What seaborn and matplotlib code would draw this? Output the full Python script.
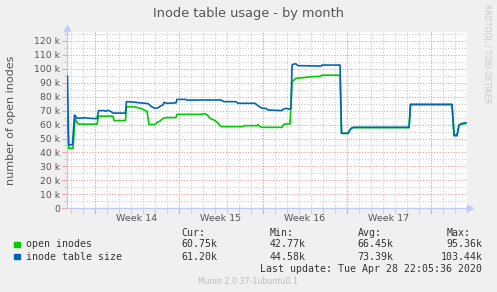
import numpy as np
import pandas as pd
import seaborn as sns
import matplotlib
matplotlib.use("Agg")
import matplotlib.pyplot as plt
from matplotlib.patches import Rectangle

# ---------------- data (x in days since graph start, values in thousands) ----
blue_day = [0.06, 0.17, 0.48, 0.65, 0.78, 0.86, 1.53, 2.19, 2.53, 2.65, 3.11, 3.28,
            3.44, 3.69, 3.86, 4.90, 4.98, 5.69, 6.11, 6.78, 7.03, 7.36, 7.61, 7.86,
            8.03, 8.11, 8.36, 9.11, 9.19, 9.86, 10.11, 11.11, 12.86, 13.11, 14.11,
            14.28, 15.69, 15.94, 16.28, 16.61, 16.78, 17.94, 18.03, 18.28, 18.53,
            18.69, 18.78, 18.94, 19.11, 19.28, 21.19, 21.28, 22.78, 22.90, 23.44,
            23.69, 23.86, 28.53, 28.65, 32.11, 32.28, 32.53, 32.69, 32.94, 33.28]
blue_val = [94.8, 45.5, 45.5, 66.8, 65.5, 64.5, 64.8, 64.3, 64.3, 69.9, 70.0, 69.5,
            70.2, 69.3, 68.2, 68.2, 76.4, 76.0, 75.5, 75.0, 73.0, 71.6, 72.0, 73.5,
            74.0, 75.9, 75.2, 75.5, 78.0, 78.0, 77.5, 77.6, 77.6, 76.4, 76.4,
            75.2, 75.2, 73.5, 71.6, 71.6, 70.4, 70.0, 71.0, 71.6, 71.0,
            71.6, 102.6, 103.44, 103.4, 102.2, 101.9, 102.6, 102.6, 53.7, 53.7,
            57.2, 58.0, 58.0, 74.5, 74.5, 52.0, 52.0, 59.7, 60.8, 61.2]

green_day = [0.06, 0.17, 0.53, 0.69, 0.90, 1.03, 2.53, 2.65, 3.86, 3.94, 4.90, 4.98,
             5.69, 5.94, 6.19, 6.44, 6.69, 6.86, 7.36, 7.53, 7.78, 8.03, 8.28, 9.11,
             9.19, 11.11, 11.53, 11.69, 11.94, 12.36, 12.61, 12.86, 14.69, 14.78,
             15.86, 15.94, 16.11, 16.28, 17.94, 18.03, 18.19, 18.61, 18.78, 19.11,
             19.94, 20.28, 21.11, 21.28, 22.78, 22.90, 23.44, 23.69, 23.86, 28.53,
             28.65, 32.11, 32.28, 32.53, 32.69, 32.94, 33.28]
green_val = [65.6, 43.0, 43.0, 64.6, 60.8, 60.3, 60.3, 66.0, 66.0, 62.8, 62.8, 72.8,
             72.6, 72.0, 71.5, 70.5, 69.5, 60.0, 60.0, 61.5, 62.5, 64.5, 65.0, 65.0,
             67.3, 67.3, 67.8, 67.0, 64.5, 62.8, 61.0, 58.5, 58.5, 59.2,
             59.2, 60.0, 58.5, 58.0, 58.0, 59.5, 60.4, 60.4, 90.7, 93.1,
             93.8, 94.2, 94.5, 95.36, 95.36, 53.7, 53.7, 57.2, 57.8, 57.8,
             74.2, 74.2, 52.5, 52.5, 59.5, 60.3, 60.75]

series_names = ["open inodes", "inode table size"]
series_colors = ["#00CC00", "#0066B3"]
week_labels = ["Week 14", "Week 15", "Week 16", "Week 17"]
week_starts = [2.33, 9.33, 16.33, 23.33, 30.33]
y_ticks = list(range(0, 130, 10))

stats_header = ["Cur:", "Min:", "Avg:", "Max:"]
stats = {
    "open inodes": ["60.75k", "42.77k", "66.45k", "95.36k"],
    "inode table size": ["61.20k", "44.58k", "73.39k", "103.44k"],
}
title = "Inode table usage - by month"
ylabel = "number of open inodes"
last_update = "Last update: Tue Apr 28 22:05:36 2020"
footer = "Munin 2.0.37-1ubuntu0.1"
side_text = "RRDTOOL / TOBI OETIKER"

df = pd.concat([
    pd.DataFrame({"day": green_day, "value": np.array(green_val) * 1000,
                  "series": series_names[0]}),
    pd.DataFrame({"day": blue_day, "value": np.array(blue_val) * 1000,
                  "series": series_names[1]}),
])

# ---------------- figure ----------------
sns.set_theme(style="white")
plt.rcParams["font.family"] = ["DejaVu Sans"]
W, H = 497, 292
fig = plt.figure(figsize=(W / 100, H / 100), dpi=100, facecolor="#F0F0F0")
ax = fig.add_axes([66.7 / W, 1 - 208.3 / H, 400 / W, (208.3 - 32) / H])
ax.set_facecolor("white")

XMAX = 400 / 12
YMAX = (208.3 - 32) / 1.396 * 1000
ax.set_xlim(0, XMAX)
ax.set_ylim(0, YMAX)

# grid (dotted, rrdtool style) with short stubs outside the axes
grey = "#D0D0D0"
red = "#F5A0A0"
dots = (0, (1, 1.5))
xt = ax.get_xaxis_transform()
yt = ax.get_yaxis_transform()
for d in np.arange(week_starts[0] - 2, XMAX, 1.0):
    if d > 0.05:
        ax.axvline(d, color=grey, lw=0.8, ls=dots, zorder=0)
        ax.plot([d, d], [-0.025, 0], color=grey, lw=0.8, transform=xt,
                clip_on=False, zorder=0)
for v in range(5000, int(YMAX), 10000):
    ax.axhline(v, color=grey, lw=0.8, ls=dots, zorder=0)
    ax.plot([-0.008, 0], [v, v], color=grey, lw=0.8, transform=yt,
            clip_on=False, zorder=0)
for w in week_starts:
    ax.axvline(w, color=red, lw=0.8, ls=dots, zorder=1)
    ax.plot([w, w], [-0.025, 0], color=red, lw=0.8, transform=xt,
            clip_on=False, zorder=1)
for v in y_ticks:
    if v > 0:
        ax.axhline(v * 1000, color=red, lw=0.8, ls=dots, zorder=1)
    ax.plot([-0.012, 0], [v * 1000, v * 1000], color=red, lw=0.8, transform=yt,
            clip_on=False, zorder=1)

sns.lineplot(data=df, x="day", y="value", hue="series", hue_order=series_names,
             palette=series_colors, estimator=None, legend=False, lw=1.2, ax=ax,
             zorder=3)

# axes styling
for s in ["top", "right"]:
    ax.spines[s].set_visible(False)
for s in ["left", "bottom"]:
    ax.spines[s].set_color("#C8C8F8")
    ax.spines[s].set_linewidth(1.0)
    ax.spines[s].set_zorder(2)
ax.plot(1.008, 0, ">", color="#C8C8F8", ms=4, transform=ax.transAxes, clip_on=False)
ax.plot(0, 1.02, "^", color="#C8C8F8", ms=4, transform=ax.transAxes, clip_on=False)

ax.set_yticks([v * 1000 for v in y_ticks])
ax.set_yticklabels(["0" if v == 0 else f"{v} k" for v in y_ticks],
                   fontsize=6.7, color="#555555")
ax.tick_params(axis="y", length=0, pad=5)
ax.set_xticks([(week_starts[i] + week_starts[i + 1]) / 2 for i in range(4)])
ax.set_xticklabels(week_labels, fontsize=6.8, color="#555555")
ax.tick_params(axis="x", length=0, pad=4)
ax.set_xlabel("")
ax.set_ylabel("")

# texts
fig.text(248.5 / W, 1 - 13.5 / H, title, ha="center", va="center",
         fontsize=9.3, color="#555555")
fig.text(11 / W, 1 - 120 / H, ylabel, rotation=90, ha="center", va="center",
         fontsize=8, color="#555555")
fig.text(487 / W, 1 - 4 / H, side_text, rotation=270, ha="center", va="top",
         fontsize=5.6, color="#C8C8C8")

mono = "DejaVu Sans Mono"
fs = 7.1
col_x = [181, 269.3, 357.7]
for i, h in enumerate(stats_header):
    x = col_x[i] if i < 3 else 446.7
    fig.text(x / W, 1 - 232.7 / H, h, ha="left", va="center", family=mono,
             fontsize=fs, color="#333333")
rows_y = [244.3, 256.7]
for name, col, yy in zip(series_names, series_colors, rows_y):
    fig.patches.append(Rectangle((14.3 / W, 1 - (yy + 2.7) / H), 5.4 / W, 5.4 / H,
                                 transform=fig.transFigure, color=col, figure=fig))
    fig.text(26.3 / W, 1 - yy / H, name, ha="left", va="center", family=mono,
             fontsize=fs, color="#333333")
    vals = stats[name]
    for i in range(3):
        fig.text(col_x[i] / W, 1 - yy / H, vals[i], ha="left", va="center",
                 family=mono, fontsize=fs, color="#333333")
    fig.text(482.3 / W, 1 - yy / H, vals[3], ha="right", va="center",
             family=mono, fontsize=fs, color="#333333")
fig.text(482.3 / W, 1 - 268.7 / H, last_update, ha="right", va="center",
         family=mono, fontsize=fs, color="#333333")
fig.text(248 / W, 1 - 281 / H, footer, ha="center", va="center",
         fontsize=5.7, color="#BBBBBB")

fig.savefig("out.png", dpi=100, facecolor=fig.get_facecolor())
